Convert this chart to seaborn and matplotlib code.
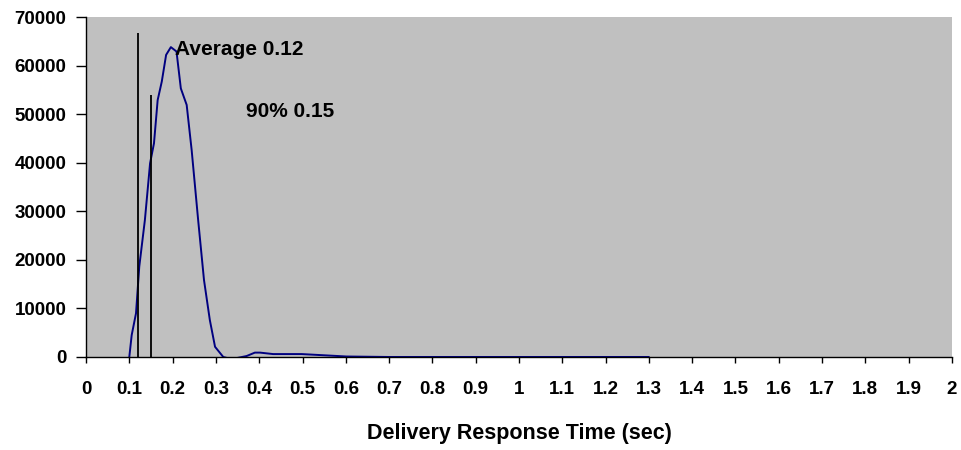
import numpy as np
import pandas as pd
import seaborn as sns
from matplotlib import pyplot as plt

# response time (sec) and count
times = [0.100, 0.1055, 0.1155, 0.123, 0.136, 0.148, 0.157, 0.1655, 0.175, 0.185,
         0.196, 0.209, 0.219, 0.2325, 0.244, 0.259, 0.2725, 0.286, 0.298, 0.317,
         0.336, 0.371, 0.390, 0.402, 0.432, 0.498, 0.602, 0.7, 0.8, 0.9,
         1.0, 1.1, 1.2, 1.3]
counts = [0, 4500, 9000, 18600, 28200, 39900, 44000, 52900, 56700, 62200,
          63800, 62900, 55300, 51900, 42600, 28200, 15850, 7600, 2100, 0,
          -450, 200, 900, 900, 600, 600, 100, 0, 0, 0,
          0, 0, 0, 0]

# marker lines and their labels
markers = [0.12, 0.15]
marker_tops = [66700, 53900]
labels = ["Average 0.12", "90% 0.15"]
label_pos = [(0.205, 63400), (0.369, 50500)]

xticks = [round(0.1 * i, 1) for i in range(21)]
xtick_labels = ["0", "0.1", "0.2", "0.3", "0.4", "0.5", "0.6", "0.7", "0.8", "0.9", "1",
                "1.1", "1.2", "1.3", "1.4", "1.5", "1.6", "1.7", "1.8", "1.9", "2"]
yticks = list(range(0, 70001, 10000))

sns.set_style("ticks")
plt.rcParams['font.family'] = ['Liberation Sans', 'DejaVu Sans']
plt.rcParams['font.weight'] = 'bold'
plt.rcParams['text.color'] = 'black'
plt.rcParams['xtick.color'] = 'black'
plt.rcParams['ytick.color'] = 'black'
plt.rcParams['axes.labelcolor'] = 'black'

fig = plt.figure(figsize=(9.62, 4.5), dpi=100)
ax = fig.add_axes([0.0894, 0.2067, 0.9002, 0.7555])
ax.set_facecolor('#C0C0C0')

df = pd.DataFrame({'time': times, 'count': counts})
sns.lineplot(data=df, x='time', y='count', ax=ax, color='#000080', linewidth=1.4)

for x, top in zip(markers, marker_tops):
    ax.vlines(x, 0, top, color='black', linewidth=1.3)
for txt, (tx, ty) in zip(labels, label_pos):
    ax.text(tx, ty, txt, fontsize=15, fontweight='bold', va='center', ha='left', color='black')

ax.set_xlim(0, 2)
ax.set_ylim(0, 70000)
ax.set_xticks(xticks)
ax.set_xticklabels(xtick_labels)
ax.set_yticks(yticks)
ax.tick_params(axis='both', labelsize=13.5, width=1, direction='out', colors='black')
ax.tick_params(axis='x', length=4, pad=13)
ax.tick_params(axis='y', length=7, pad=7)
for lbl in ax.get_xticklabels() + ax.get_yticklabels():
    lbl.set_fontweight('bold')
ax.set_xlabel("Delivery Response Time (sec)", fontsize=15.5, fontweight='bold', labelpad=18,
              color='black')
ax.set_ylabel("")
for side in ['top', 'right']:
    ax.spines[side].set_visible(False)
for side in ['left', 'bottom']:
    ax.spines[side].set_color('black')
    ax.spines[side].set_linewidth(1)

fig.savefig("out.png", dpi=100)
